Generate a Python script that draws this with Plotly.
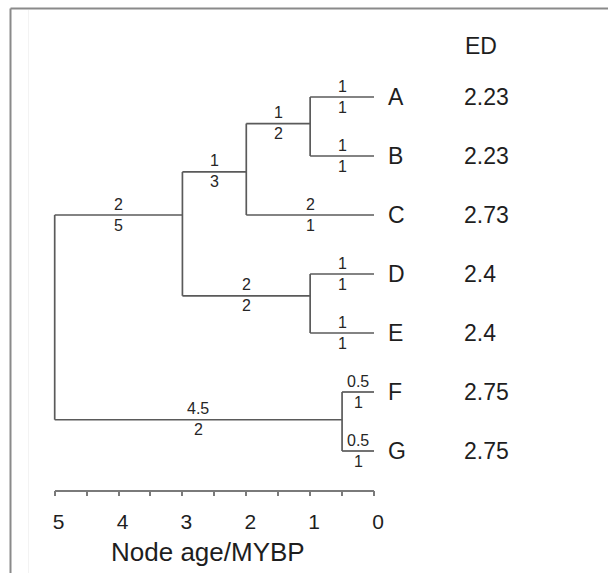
import plotly.graph_objects as go

# ---------------- data ----------------
tip_names = ["A", "B", "C", "D", "E", "F", "G"]
ed_values = ["2.23", "2.23", "2.73", "2.4", "2.4", "2.75", "2.75"]
ed_header = "ED"

node_names = ["A", "B", "C", "D", "E", "F", "G", "AB", "ABC", "DE", "ABCDE", "FG", "root"]
node_age = [0, 0, 0, 0, 0, 0, 0, 1, 2, 1, 3, 0.5, 5]
node_row = [0, 1, 2, 3, 4, 5, 6, 0.45, 1.27, 3.37, 2.0, 5.47, None]

edge_parent = ["root", "ABCDE", "ABC", "AB", "AB", "ABC", "ABCDE", "DE", "DE", "root", "FG", "FG"]
edge_child = ["ABCDE", "ABC", "AB", "A", "B", "C", "DE", "D", "E", "FG", "F", "G"]
label_top = ["2", "1", "1", "1", "1", "2", "2", "1", "1", "4.5", "0.5", "0.5"]
label_bottom = ["5", "3", "2", "1", "1", "1", "2", "1", "1", "2", "1", "1"]

axis_ticks = [5, 4, 3, 2, 1, 0]
axis_minor = [4.5, 3.5, 2.5, 1.5, 0.5]
axis_title = "Node age/MYBP"

# ---------------- geometry helpers ----------------
W, H = 608, 573
X5_PX, X0_PX = 54.7, 374.0
PX_PER_AGE = (X0_PX - X5_PX) / 5.0
ROW0_PX, ROW_PX = 97.0, 59.0
AXIS_Y_PX = 490.7

x_range = [5 + X5_PX / PX_PER_AGE, -(W - X0_PX) / PX_PER_AGE]
y_range = [(H - ROW0_PX) / ROW_PX, -ROW0_PX / ROW_PX]

age = dict(zip(node_names, node_age))
row = dict(zip(node_names, node_row))

FONT = "Liberation Sans, Arial, Helvetica, sans-serif"
LINE_C = "#5a5a5a"
TEXT_C = "#1e1e1e"

# tree segments
xs, ys = [], []
for p, c in zip(edge_parent, edge_child):
    xs += [age[p], age[c], None]
    ys += [row[c], row[c], None]
for p in dict.fromkeys(edge_parent):
    kids = [row[c] for pp, c in zip(edge_parent, edge_child) if pp == p]
    if row[p] is not None:
        kids.append(row[p])
    xs += [age[p], age[p], None]
    ys += [min(kids), max(kids), None]

fig = go.Figure()
fig.add_trace(go.Scatter(x=xs, y=ys, mode="lines",
                         line=dict(color=LINE_C, width=1.7),
                         hoverinfo="skip", showlegend=False))
fig.add_trace(go.Scatter(x=[axis_ticks[0], axis_ticks[-1]], y=[0, 0], xaxis="x2", yaxis="y",
                         mode="markers", marker=dict(opacity=0),
                         hoverinfo="skip", showlegend=False))

ann = []
for p, c, t, b in zip(edge_parent, edge_child, label_top, label_bottom):
    xm = (age[p] + age[c]) / 2
    ann.append(dict(x=xm, y=row[c], xref="x", yref="y", text=t, showarrow=False,
                    yshift=11, font=dict(size=16, color="#262626", family=FONT)))
    ann.append(dict(x=xm, y=row[c], xref="x", yref="y", text=b, showarrow=False,
                    yshift=-10, font=dict(size=16, color="#262626", family=FONT)))

for n, v in zip(tip_names, ed_values):
    ann.append(dict(x=age[n], y=row[n], xref="x", yref="y", text=n, showarrow=False,
                    xanchor="left", xshift=12, font=dict(size=23, color=TEXT_C, family=FONT)))
    ann.append(dict(x=age[n], y=row[n], xref="x", yref="y", text=v, showarrow=False,
                    xanchor="left", xshift=88, font=dict(size=23, color=TEXT_C, family=FONT)))
ann.append(dict(x=0, y=-51 / ROW_PX, xref="x", yref="y", text=ed_header, showarrow=False,
                xanchor="left", xshift=89, font=dict(size=23, color=TEXT_C, family=FONT)))
# axis title
ann.append(dict(x=207.5 / W, y=1 - 552.0 / H, xref="paper", yref="paper", text=axis_title,
                showarrow=False, xanchor="center", yanchor="middle",
                font=dict(size=26, color=TEXT_C, family=FONT)))

shapes = [
    dict(type="line", xref="paper", yref="paper", x0=10.5 / W, x1=1.0,
         y0=1 - 8.5 / H, y1=1 - 8.5 / H, line=dict(color="#8a8a8a", width=2)),
    dict(type="line", xref="paper", yref="paper", x0=10.5 / W, x1=10.5 / W,
         y0=0, y1=1 - 8.5 / H, line=dict(color="#8a8a8a", width=2)),
    dict(type="line", xref="paper", yref="paper", x0=28.5 / W, x1=28.5 / W,
         y0=0, y1=1 - 10 / H, line=dict(color="#f3f3f3", width=1)),
]

fig.update_layout(
    template="none",
    width=W, height=H, autosize=False,
    margin=dict(l=0, r=0, t=0, b=0, pad=0, autoexpand=False),
    paper_bgcolor="white", plot_bgcolor="rgba(0,0,0,0)",
    showlegend=False,
    annotations=ann, shapes=shapes,
    xaxis=dict(range=x_range, domain=[0, 1], visible=False, fixedrange=True, automargin=False),
    yaxis=dict(range=y_range, domain=[0, 1], visible=False, fixedrange=True, automargin=False),
    xaxis2=dict(
        domain=[X5_PX / W, X0_PX / W], range=[axis_ticks[0], axis_ticks[-1]],
        anchor="free", position=1 - AXIS_Y_PX / H, side="bottom", automargin=False,
        showline=True, linecolor="#7a7a7a", linewidth=1.5,
        showgrid=False, zeroline=False,
        tickmode="array", tickvals=axis_ticks, ticktext=[str(t) for t in axis_ticks],
        ticks="outside", ticklen=5, tickwidth=1.5, tickcolor="#7a7a7a",
        minor=dict(ticks="outside", ticklen=5, tickwidth=1.5, tickcolor="#7a7a7a",
                   tickvals=axis_minor, showgrid=False),
        tickfont=dict(size=21, color=TEXT_C, family=FONT),
        ticklabelstandoff=7, ticklabelshift=-4,
        fixedrange=True,
    ),
)

fig.write_html("out.html", post_script="document.body.style.margin='0';",
               config={"displayModeBar": False})
